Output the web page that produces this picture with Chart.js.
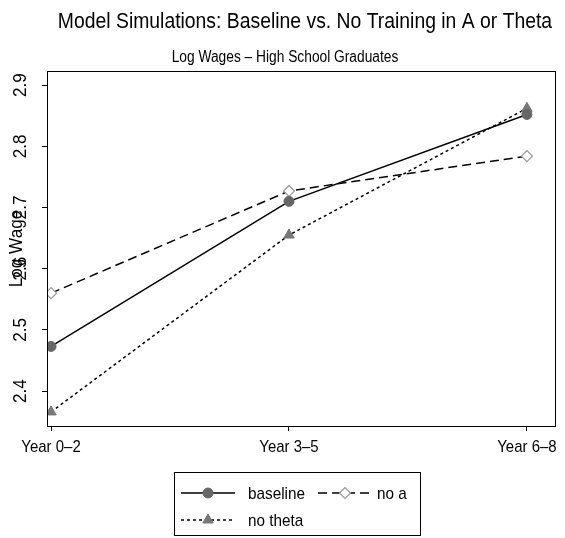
<!DOCTYPE html>
<html>
<head>
<meta charset="utf-8">
<script src="https://cdn.jsdelivr.net/npm/chart.js@4"></script>
<style>
html, body { margin: 0; padding: 0; background: #fff; }
#wrap { width: 565px; height: 538px; }
</style>
</head>
<body>
<div id="wrap"><canvas id="c" width="565" height="538"></canvas></div>
<script>
// values
var categories = ["Year 0\u20132", "Year 3\u20135", "Year 6\u20138"];
var baseline = [2.473, 2.710, 2.852];
var noA = [2.560, 2.727, 2.784];
var noTheta = [2.366, 2.655, 2.862];
var yTicks = [2.4, 2.5, 2.6, 2.7, 2.8, 2.9];
var seriesNames = ["baseline", "no a", "no theta"];

var FONT = '"Liberation Sans", Arial, sans-serif';

function pts(arr) {
    return arr.map(function (v, i) { return { x: i, y: v }; });
}

//narrow looking text: squeeze it sideways
function txt(ctx, s, x, y, size, sx, align) {
    ctx.save();
    ctx.font = size + "px " + FONT;
    ctx.textAlign = align || "center";
    ctx.textBaseline = "alphabetic";
    ctx.translate(x, y);
    ctx.scale(sx, 1);
    ctx.fillText(s, 0, 0);
    ctx.restore();
}

var decor = {
    id: "decor",
    afterDraw: function (chart) {
        var ctx = chart.ctx;
        var a = chart.chartArea;
        var xs = chart.scales.x, ys = chart.scales.y;
        ctx.save();
        ctx.fillStyle = "#000";
        ctx.strokeStyle = "#000";
        ctx.lineWidth = 1;
        ctx.setLineDash([]);
        ctx.strokeRect(Math.round(a.left) + 0.5, Math.round(a.top) + 0.5, Math.round(a.right - a.left), Math.round(a.bottom - a.top));

        // titles
        txt(ctx, "Model Simulations: Baseline vs. No Training in A or Theta", 305, 28, 22, 0.88);
        txt(ctx, "Log Wages \u2013 High School Graduates", 285, 62, 16, 0.86);

        // y tick labels, turned
        for (var t of yTicks) {
            var py = ys.getPixelForValue(t);
            ctx.save();
            ctx.translate(26, py);
            ctx.rotate(-Math.PI / 2);
            txt(ctx, t.toFixed(1), 0, 0, 18, 0.95);
            ctx.restore();
        }
        // y title
        ctx.save();
        ctx.translate(22, (a.top + a.bottom) / 2);
        ctx.rotate(-Math.PI / 2);
        txt(ctx, "Log Wage", 0, 0, 18, 0.95);
        ctx.restore();

        // x labels
        for (var i = 0; i < categories.length; i++) {
            txt(ctx, categories[i], xs.getPixelForValue(i), 452, 17, 0.88);
        }

        // legend
        var bx = 174, by = 472, bw = 246, bh = 63;
        ctx.strokeStyle = "#000";
        ctx.lineWidth = 1;
        ctx.strokeRect(bx + 0.5, by + 0.5, bw, bh);
        var slots = [{ x: 208, y: 493, tx: 248 }, { x: 345, y: 493, tx: 377 }, { x: 208, y: 520, tx: 248 }];
        for (var k = 0; k < chart.data.datasets.length; k++) {
            var ds = chart.data.datasets[k];
            var s = slots[k];
            ctx.strokeStyle = ds.borderColor;
            ctx.lineWidth = ds.borderWidth;
            ctx.setLineDash(ds.borderDash || []);
            ctx.beginPath();
            ctx.moveTo(s.x - 27, s.y);
            ctx.lineTo(s.x + 27, s.y);
            ctx.stroke();
            ctx.setLineDash([]);
            ctx.fillStyle = ds.pointBackgroundColor;
            ctx.strokeStyle = ds.pointBorderColor;
            ctx.lineWidth = ds.pointBorderWidth;
            Chart.helpers.drawPoint(ctx, {
                pointStyle: ds.pointStyle,
                rotation: 0,
                radius: ds.pointRadius,
                borderWidth: ds.pointBorderWidth
            }, s.x, s.y);
            ctx.fillStyle = "#000";
            txt(ctx, ds.label, s.tx, s.y + 6, 17, 0.9, "left");
        }
        ctx.restore();
    }
};

var chart = new Chart(document.getElementById("c"), {
    type: "line",
    data: {
        datasets: [
            {
                label: seriesNames[0],
                data: pts(baseline),
                borderColor: "#000",
                borderWidth: 1.5,
                pointStyle: "circle",
                pointRadius: 5,
                pointBackgroundColor: "#666",
                pointBorderColor: "#666",
                pointBorderWidth: 1
            },
            {
                label: seriesNames[1],
                data: pts(noA),
                borderColor: "#000",
                borderWidth: 1.5,
                borderDash: [9, 5],
                pointStyle: "rectRot",
                pointRadius: 5.5,
                pointBackgroundColor: "#fff",
                pointBorderColor: "#999",
                pointBorderWidth: 1.2
            },
            {
                label: seriesNames[2],
                data: pts(noTheta),
                borderColor: "#000",
                borderWidth: 1.5,
                borderDash: [3, 3],
                pointStyle: "triangle",
                pointRadius: 6,
                pointBackgroundColor: "#777",
                pointBorderColor: "#777",
                pointBorderWidth: 1
            }
        ]
    },
    options: {
        responsive: false,
        animation: false,
        devicePixelRatio: 1,
        layout: { padding: { top: 71, right: 10, left: 0, bottom: 0 } },
        elements: { line: { tension: 0 } },
        plugins: { legend: { display: false }, title: { display: false }, tooltip: { enabled: false } },
        scales: {
            x: {
                type: "linear",
                min: -0.017,
                max: 2.118,
                afterBuildTicks: function (s) { s.ticks = categories.map(function (c, i) { return { value: i }; }); },
                afterFit: function (s) { s.height = 112; },
                ticks: { display: false },
                grid: { display: true, drawOnChartArea: false, drawTicks: true, tickLength: 5, color: "#000" },
                border: { display: true, color: "#000", width: 1 }
            },
            y: {
                type: "linear",
                min: 2.343,
                max: 2.923,
                afterBuildTicks: function (s) { s.ticks = yTicks.map(function (v) { return { value: v }; }); },
                afterFit: function (s) { s.width = 47; },
                ticks: { display: false },
                grid: { display: true, drawOnChartArea: false, drawTicks: true, tickLength: 5, color: "#000" },
                border: { display: true, color: "#000", width: 1 }
            }
        }
    },
    plugins: [decor]
});
</script>
</body>
</html>
